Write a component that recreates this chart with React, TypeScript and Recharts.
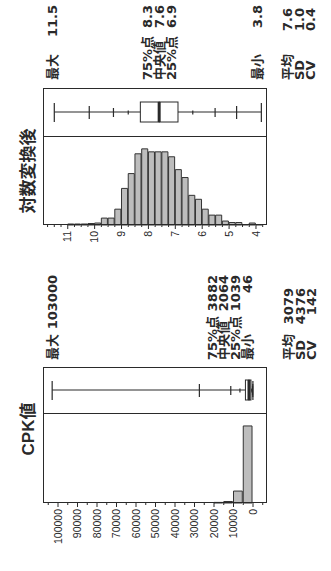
import React from 'react';
import { ComposedChart, Bar, XAxis, YAxis, Scatter } from 'recharts';

// 元の向き（横571×縦331）で描いてから -90度 回転させる
const W = 571;
const H = 331;
const PLOT_TOP = 43;
const PLOT_BOTTOM = 267;

// ---- CPK値 ----
const cpkBinStart = [0, 5000, 10000, 15000];
const cpkCounts = [2580, 400, 50, 20];
const cpkTicks = [0, 10000, 20000, 30000, 40000, 50000, 60000, 70000, 80000, 90000, 100000];
// 最大, 99.5%, 97.5%, 90%, 75%, 中央値, 25%, 10%, 2.5%, 0.5%, 最小
const cpkQuantiles = [103000, 27500, 11400, 6700, 3882, 2064, 1039, 570, 250, 112, 46];
const cpkStats = [['平均', '3079'], ['SD', '4376'], ['CV', '142']];

// ---- 対数変換後 ----
const logBinStart = [3.75, 4, 4.25, 4.5, 4.75, 5, 5.25, 5.5, 5.75, 6, 6.25, 6.5, 6.75, 7, 7.25, 7.5, 7.75, 8, 8.25, 8.5, 8.75, 9, 9.25, 9.5, 9.75, 10, 10.25, 10.5, 10.75];
const logCounts = [2, 8, 2, 10, 10, 16, 40, 40, 64, 104, 120, 192, 224, 276, 296, 296, 296, 308, 288, 208, 148, 64, 28, 28, 8, 6, 4, 4, 4];
const logTicks = [4, 5, 6, 7, 8, 9, 10, 11];
const logQuantiles = [11.5, 10.2, 9.3, 8.75, 8.3, 7.6, 6.9, 6.35, 5.52, 4.72, 3.8];
const logStats = [['平均', '7.6'], ['SD', '1.0'], ['CV', '0.4']];

const INK = '#2a2a2a';
const STAT_FONT = '"DejaVu Sans", "Noto Sans CJK JP", sans-serif';

const minorTicks = (lo: number, hi: number, step: number, major: number[]) => {
  const out: number[] = [];
  for (let v = Math.ceil(lo / step) * step; v <= hi; v += step) {
    const r = Math.round(v * 1000) / 1000;
    if (!major.includes(r)) out.push(r);
  }
  return out;
};

const renderTick = (p: any, majors: number[]) => {
  const major = majors.includes(p.payload.value);
  return (
    <g>
      <line x1={p.x} x2={p.x - (major ? 4 : 2)} y1={p.y} y2={p.y} stroke={INK} strokeWidth={1} />
      {major && (
        <text x={p.x - 6} y={p.y} dy="0.35em" textAnchor="end" fontSize={10.5}
          fontFamily='"Liberation Sans", Arial, sans-serif' fill={INK}>
          {p.payload.value}
        </text>
      )}
    </g>
  );
};

const Whisker = (p: any) => {
  const cx = p.x + p.width / 2;
  return <line x1={cx} x2={cx} y1={p.y} y2={p.y + p.height} stroke={INK} strokeWidth={1.2} />;
};

const BoxLow = (p: any) => (
  <rect x={p.x} y={p.y} width={p.width} height={Math.max(p.height, 0.5)} fill="#fff" stroke={INK} strokeWidth={1} />
);

const BoxHigh = (p: any) => (
  <g>
    <rect x={p.x} y={p.y} width={p.width} height={Math.max(p.height, 0.5)} fill="#fff" stroke={INK} strokeWidth={1} />
    <line x1={p.x} x2={p.x + p.width} y1={p.y + p.height} y2={p.y + p.height} stroke={INK} strokeWidth={3} />
  </g>
);

const QTick = (p: any) => (
  <line x1={p.cx - p.payload.len / 2} x2={p.cx + p.payload.len / 2} y1={p.cy} y2={p.cy} stroke={INK} strokeWidth={1.2} />
);

type PanelProps = {
  title: string;
  titleX: number;
  frameLeft: number;
  divider: number;
  frameRight: number;
  axisW: number;
  domain: [number, number];
  binStart: number[];
  binWidth: number;
  counts: number[];
  countMax: number;
  majors: number[];
  minorStep: number;
  quantiles: number[];
  labelLeft: number;
  valueRight: number;
  meanRight: number;
  rowsY: { max: number; q75: number; med: number; q25: number; min: number; mean: number };
  stats: string[][];
  fmt: (v: number) => string;
};

const Panel = (props: PanelProps) => {
  const { domain, binStart, binWidth, counts, quantiles } = props;
  const plotH = PLOT_BOTTOM - PLOT_TOP;
  const barPx = (binWidth * plotH) / (domain[1] - domain[0]);
  const histData = binStart.map((b, i) => ({ mid: b + binWidth / 2, count: counts[i] }));
  const [mx, q995, q975, q90, q75, med, q25, q10, q025, q005, mn] = quantiles;
  const boxRow = [{
    name: 'box',
    base: mn,
    lowW: q25 - mn,
    boxLo: med - q25,
    boxHi: q75 - med,
    highW: mx - q75,
  }];
  const tickLens = [19, 13, 9, 4, 4, 9, 13, 19];
  const qData = [mx, q995, q975, q90, q10, q025, q005, mn].map((v, i) => ({ name: 'box', v, len: tickLens[i] }));
  const minors = minorTicks(domain[0], domain[1], props.minorStep, props.majors);
  const histW = props.divider - props.frameLeft;
  const boxW = props.frameRight - props.divider;

  const row = (y: number, label: string, value: string, right: number) => (
    <div key={label} style={{
      position: 'absolute', left: props.labelLeft, top: y - 8, width: right - props.labelLeft,
      display: 'flex', justifyContent: 'space-between', fontFamily: STAT_FONT, fontWeight: 'bold',
      fontSize: 13, lineHeight: '16px', color: INK, whiteSpace: 'nowrap',
    }}>
      <span>{label}</span><span>{value}</span>
    </div>
  );

  return (
    <>
      <div style={{
        position: 'absolute', left: props.titleX - 60, width: 120, top: 14, textAlign: 'center',
        fontFamily: '"Liberation Sans", "Noto Sans CJK JP", sans-serif', fontWeight: 'bold', fontSize: 17, color: INK,
      }}>{props.title}</div>

      <div style={{ position: 'absolute', left: props.frameLeft - props.axisW, top: 0 }}>
        <ComposedChart layout="vertical" width={props.axisW + histW} height={H} data={histData}
          margin={{ top: PLOT_TOP, bottom: H - PLOT_BOTTOM, left: 0, right: 0 }} barCategoryGap={0}>
          <XAxis type="number" domain={[0, props.countMax]} hide />
          <YAxis type="number" dataKey="mid" domain={domain} allowDataOverflow reversed width={props.axisW}
            ticks={[...props.majors, ...minors]} interval={0} tickSize={0} tickMargin={0}
            axisLine={false} tickLine={false} tick={(p: any) => renderTick(p, props.majors)} />
          <Bar dataKey="count" barSize={barPx} fill="#bdbdbd" stroke="#333" strokeWidth={1} isAnimationActive={false} />
        </ComposedChart>
      </div>

      <div style={{ position: 'absolute', left: props.divider, top: 0 }}>
        <ComposedChart width={boxW} height={H} data={boxRow}
          margin={{ top: PLOT_TOP, bottom: H - PLOT_BOTTOM, left: 0, right: 0 }}>
          <XAxis type="category" dataKey="name" allowDuplicatedCategory={false} hide />
          <YAxis type="number" domain={domain} allowDataOverflow hide />
          <Bar dataKey="base" stackId="b" barSize={20} fill="none" shape={() => <g />} isAnimationActive={false} />
          <Bar dataKey="lowW" stackId="b" barSize={20} shape={Whisker} isAnimationActive={false} />
          <Bar dataKey="boxLo" stackId="b" barSize={20} shape={BoxLow} isAnimationActive={false} />
          <Bar dataKey="boxHi" stackId="b" barSize={20} shape={BoxHigh} isAnimationActive={false} />
          <Bar dataKey="highW" stackId="b" barSize={20} shape={Whisker} isAnimationActive={false} />
          <Scatter data={qData} dataKey="v" shape={QTick} isAnimationActive={false} />
        </ComposedChart>
      </div>

      <div style={{
        position: 'absolute', left: props.frameLeft, top: PLOT_TOP, width: props.frameRight - props.frameLeft,
        height: PLOT_BOTTOM - PLOT_TOP, border: `1px solid ${INK}`, boxSizing: 'border-box', pointerEvents: 'none',
      }} />
      <div style={{ position: 'absolute', left: props.divider, top: PLOT_TOP, width: 1, height: PLOT_BOTTOM - PLOT_TOP, background: INK }} />

      {row(props.rowsY.max, '最大', props.fmt(mx), props.valueRight)}
      {row(props.rowsY.q75, '75%点', props.fmt(q75), props.valueRight)}
      {row(props.rowsY.med, '中央値', props.fmt(med), props.valueRight)}
      {row(props.rowsY.q25, '25%点', props.fmt(q25), props.valueRight)}
      {row(props.rowsY.min, '最小', props.fmt(mn), props.valueRight)}
      {props.stats.map(([l, v], i) => row(props.rowsY.mean + i * 11.7, l, v, props.meanRight))}
    </>
  );
};

export default function App() {
  return (
    <div style={{ position: 'absolute', left: 0, top: 0, width: H, height: W, overflow: 'hidden', background: '#fff' }}>
      <div style={{
        position: 'absolute', left: 0, top: 0, width: W, height: H,
        transformOrigin: '0 0', transform: `translate(0px, ${W}px) rotate(-90deg)`,
      }}>
        <Panel
          title="CPK値" titleX={142}
          frameLeft={68} divider={157} frameRight={204} axisW={56}
          domain={[-7180, 107700]}
          binStart={cpkBinStart} binWidth={5000} counts={cpkCounts} countMax={2980}
          majors={cpkTicks} minorStep={5000}
          quantiles={cpkQuantiles}
          labelLeft={211} valueRight={296} meanRight={283}
          rowsY={{ max: 52.5, q75: 212.5, med: 224, q25: 236, min: 248, mean: 289 }}
          stats={cpkStats} fmt={(v) => String(v)}
        />
        <Panel
          title="対数変換後" titleX={400}
          frameLeft={346} divider={434} frameRight={483} axisW={40}
          domain={[3.59, 11.92]}
          binStart={logBinStart} binWidth={0.25} counts={logCounts} countMax={356}
          majors={logTicks} minorStep={0.25}
          quantiles={logQuantiles}
          labelLeft={491} valueRight={566} meanRight={563}
          rowsY={{ max: 52.5, q75: 148, med: 160, q25: 172, min: 257.5, mean: 288 }}
          stats={logStats} fmt={(v) => v.toFixed(1)}
        />
      </div>
    </div>
  );
}
